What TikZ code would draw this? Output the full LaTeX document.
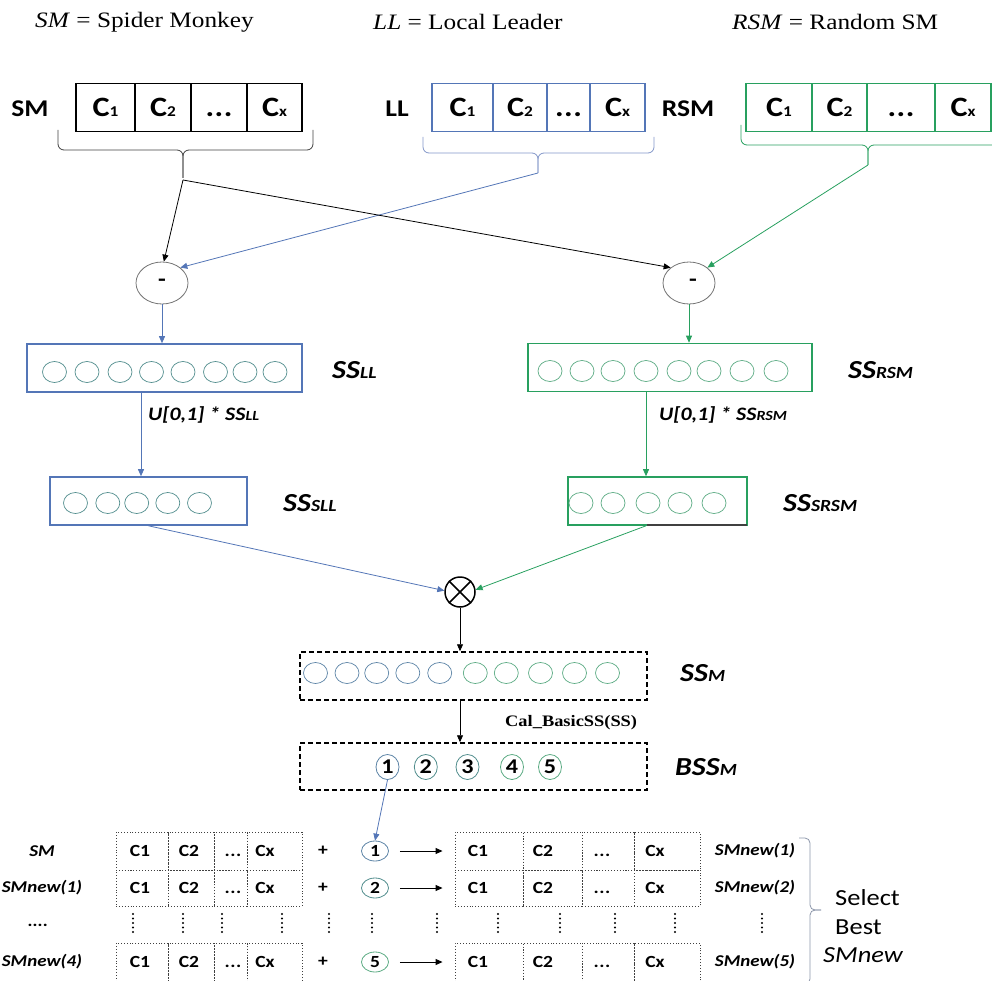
\documentclass[tikz,border=0pt]{standalone}
\usepackage{fontspec}
\setmainfont{Liberation Serif}[FakeStretch=1.15]
\newfontfamily\cb{Carlito}[FakeStretch=1.15]
\usetikzlibrary{arrows.meta,shapes.geometric}
\definecolor{blueC}{RGB}{84,118,183}
\definecolor{blueL}{RGB}{130,150,200}
\definecolor{greenC}{RGB}{40,160,95}
\definecolor{tealC}{RGB}{80,140,140}
\definecolor{mblue}{RGB}{90,130,165}
\definecolor{mgreen}{RGB}{90,170,130}
\definecolor{braceC}{RGB}{140,150,170}
\newcommand\fsz[1]{\fontsize{#1}{#1}\selectfont}
\newcommand\cc[1]{C{\fsz{15}#1}}
\newcommand\dts{\vphantom{C}.\kern0.6pt.\kern0.6pt.}
\newcommand\sslab[4]{{\cb\bfseries\itshape\fsz{#3}#1{\fsz{#4}#2}}}
\begin{document}
\begin{tikzpicture}[x=1pt,y=-1pt,
  arr/.style={-{Triangle[length=7pt,width=6pt]}, line width=0.8pt},
  lab/.style={font=\cb\bfseries\fsz{24}},
  cellT/.style={draw=#1, line width=1.4pt, minimum height=48pt, inner sep=0pt, font=\cb\bfseries\fsz{28}},
  brc/.style={line width=0.8pt, rounded corners=6pt},
  minusnode/.style={ellipse, draw=black!55, line width=0.8pt, minimum width=52pt, minimum height=42pt, inner sep=0pt, font=\cb\bfseries\fsz{22}},
  ssbox/.style={draw=#1, line width=1.6pt, minimum height=48pt, inner sep=0pt},
  sc/.style={ellipse, draw=#1, line width=0.7pt, minimum width=24pt, minimum height=21pt, inner sep=0pt},
  dbox/.style={draw, line width=1.5pt, dash pattern=on 5pt off 3pt, minimum height=48pt, inner sep=0pt},
  lbl/.style={anchor=west, inner sep=0pt},
  nc/.style={ellipse, draw=#1, line width=0.8pt, minimum width=23pt, minimum height=25pt, inner sep=0pt, font=\cb\bfseries\fsz{21}},
  tcell/.style={draw=black!75, dotted, line width=0.9pt, inner sep=0pt},
  ttext/.style={font=\cb\bfseries\fsz{17}, inner sep=0pt},
  rlab/.style={font=\cb\bfseries\itshape\fsz{16.5}, inner sep=0pt},
  tc/.style={ellipse, draw=#1, line width=0.8pt, minimum width=27pt, minimum height=20pt, inner sep=0pt, font=\cb\bfseries\fsz{17}},
]
\useasboundingbox (0,0) rectangle (992,981);

% titles
\node[lbl, font=\fsz{22}] (tSM) at (35,22) {\textit{SM} = Spider Monkey};
\node[lbl, font=\fsz{22}] (tLL) at (373,22) {\textit{LL} = Local Leader};
\node[lbl, font=\fsz{22}] (tRSM) at (732,22) {\textit{RSM} = Random SM};

% top labels
\node[lab] (lSM) at (30,109) {SM};
\node[lab] (lLL) at (397,109) {LL};
\node[lab] (lRSM) at (688,109) {RSM};

% top boxes
\foreach \x/\w/\t [count=\i] in {105.5/59/\cc{1}, 163/56/\cc{2}, 219/56/\dts, 274.5/55/\cc{x}}
  \node[cellT=black, minimum width=\w pt] (sm\i) at (\x,107.5) {\t};
\foreach \x/\w/\t [count=\i] in {462.5/61/\cc{1}, 520/54/\cc{2}, 568.5/43/\dts, 617.5/55/\cc{x}}
  \node[cellT=blueC, minimum width=\w pt] (ll\i) at (\x,107.5) {\t};
\foreach \x/\w/\t [count=\i] in {779/66/\cc{1}, 839.5/55/\cc{2}, 901/68/\dts, 963/56/\cc{x}}
  \node[cellT=greenC, minimum width=\w pt] (rsm\i) at (\x,107.5) {\t};

% braces
\draw[brc, black!75] (58,130) -- (58,150) -- (183,150) -- (183,178);
\draw[brc, black!75] (313,130) -- (313,150) -- (183,150) -- (183,178);
\draw[brc, blueL] (423,137) -- (423,153) -- (538,153) -- (538,173);
\draw[brc, blueL] (654,137) -- (654,153) -- (538,153) -- (538,173);
\draw[brc, greenC] (741,125) -- (741,145) -- (868,145) -- (868,165);
\draw[brc, greenC] (998,125) -- (998,145) -- (868,145) -- (868,165);
\coordinate (smT) at (183,180);
\coordinate (llT) at (538,173);
\coordinate (rsmT) at (868,165);

% minus nodes
\node[minusnode] (mL) at (162,283) {-};
\node[minusnode] (mR) at (689,283) {\hspace*{8pt}-};

\draw[arr] (smT) -- (mL.85);
\draw[arr, blueC] (llT) -- (mL.40);
\draw[arr] (smT) -- (mR.140);
\draw[arr, greenC] (rsmT) -- (mR.40);

% SS boxes
\node[ssbox=blueC, minimum width=275pt] (sll) at (164.5,368) {};
\node[ssbox=greenC, minimum width=284pt] (srsm) at (670,367.5) {};
\foreach \x [count=\i] in {54.5,87,120,151.5,183,215.5,245,275}
  \node[sc=tealC] (cl\i) at (\x,372) {};
\foreach \x [count=\i] in {550,582,613,646,679,709,742,776}
  \node[sc=mgreen] (cr\i) at (\x,371) {};
\node[lbl] (lsll) at (332,370) {\sslab{SS}{LL}{26}{17}};
\node[lbl] (lsrsm) at (848,370) {\sslab{SS}{RSM}{26}{17}};

\draw[arr, blueC] (mL.south) -- (mL.south |- sll.north);
\draw[arr, greenC] (mR.south) -- (mR.south |- srsm.north);

% scaled boxes
\node[ssbox=blueC, minimum width=197pt] (ssll) at (148.5,501) {};
\node[ssbox=greenC, minimum width=179pt] (ssrsm) at (657.5,501) {};
\draw[line width=1.5pt, black!75] (647,525) -- (747,525);
\foreach \x [count=\i] in {75.5,107.8,136.7,167.8,199.5}
  \node[sc=tealC] (csl\i) at (\x,503) {};
\foreach \x [count=\i] in {581,613,648,680,714}
  \node[sc=mgreen] (csr\i) at (\x,503) {};
\node[lbl] (lssll) at (283,503) {\sslab{SS}{SLL}{26}{17}};
\node[lbl] (lssrsm) at (783,503) {\sslab{SS}{SRSM}{26}{17}};

\coordinate (aL) at (141,0);
\coordinate (aR) at (646,0);
\draw[arr, blueC] (aL |- sll.south) -- (aL |- ssll.north);
\draw[arr, greenC] (aR |- srsm.south) -- (aR |- ssrsm.north);
\node[lbl] (uL) at (148,415) {\sslab{U[0,1] * SS}{LL}{19}{14}};
\node[lbl] (uR) at (659,415) {\sslab{U[0,1] * SS}{RSM}{19}{14}};

% otimes
\node[circle, draw, line width=1.5pt, minimum size=30pt, inner sep=0pt] (ot) at (460,592) {};
\draw[line width=1.5pt] (ot.45) -- (ot.225) (ot.135) -- (ot.315);
\draw[arr, blueC] (ssll.south) -- (ot.175);
\draw[arr, greenC] (aR |- ssrsm.south) -- (ot.8);

% SS_M
\node[dbox, minimum width=347pt] (ssm) at (473.5,676) {};
\foreach \x [count=\i] in {315.5,347,376.7,407.8,439.7}
  \node[sc=mblue] (cm\i) at (\x,673) {};
\foreach \x [count=\i] in {475.3,506.3,540.5,574.5,607.5}
  \node[sc=mgreen] (cn\i) at (\x,673) {};
\node[lbl] (lssm) at (680,673) {\sslab{SS}{M}{26}{17}};
\draw[arr] (ot.south) -- (ot.south |- ssm.north);

% BSS_M
\node[dbox, minimum width=347pt, minimum height=47pt] (bss) at (473.5,766.5) {};
\draw[arr] (ot.south |- ssm.south) -- (ot.south |- bss.north);
\node[lbl, font=\bfseries\fsz{16}] (cal) at (505,723) {Cal\_BasicSS(SS)};
\foreach \x/\c [count=\i] in {387.5/mblue, 425.8/tealC, 467.5/tealC, 512/mgreen, 550/mgreen}
  \node[nc=\c] (b\i) at (\x,767) {\i};
\node[lbl] (lbss) at (675,767) {\sslab{BSS}{M}{26}{17}};

% table
\node[rlab] (rl1) at (42,851) {SM};
\node[rlab] (rl2) at (42,888) {SMnew(1)};
\node[rlab] (rl3) at (38,925) {....};
\node[rlab] (rl4) at (42,962) {SMnew(4)};
\foreach \r/\y/\h/\n/\c in {1/851/38/1/mblue, 2/888/36/2/tealC, 4/962/38/5/mgreen} {
  \foreach \x/\w/\tx/\t [count=\k] in {142/52/140/C1, 191/46/189/C2, 230.5/33/233/\dts, 274.5/55/265/Cx} {
    \node[tcell, minimum width=\w pt, minimum height=\h pt] (L\r\k) at (\x,\y) {};
    \node[ttext] (LT\r\k) at (\tx,\y) {\t};
  }
  \foreach \x/\w/\tx/\t [count=\k] in {489/68/478/C1, 552.5/59/543/C2, 608/52/602/\dts, 667/66/655/Cx} {
    \node[tcell, minimum width=\w pt, minimum height=\h pt] (R\r\k) at (\x,\y) {};
    \node[ttext] (RT\r\k) at (\tx,\y) {\t};
  }
  \node[ttext] (pl\r) at (323,\y) {+};
  \node[tc=\c] (tc\r) at (375,\y) {\n};
  \draw[arr, line width=1pt] ([xshift=11pt]tc\r.east) -- ([xshift=-12pt]R\r1.west);
}
\node[rlab] (rr1) at (755,851) {SMnew(1)};
\node[rlab] (rr2) at (755,888) {SMnew(2)};
\node[rlab] (rr4) at (755,962) {SMnew(5)};
\foreach \x in {133,183,222,282,329,372,437,498,560,615,675,762}
  \foreach \k in {0,...,4}
    \fill (\x,{914+4.5*\k}) circle (1.2pt);

\draw[arr, blueC] (b1.south) -- (tc1.north);

% select brace
\draw[brc, braceC, rounded corners=5pt] (799,838) -- (810,838) -- (810,910) -- (821,910);
\draw[brc, braceC, rounded corners=5pt] (799,984) -- (810,984) -- (810,910) -- (821,910);
\node[lbl, font=\cb\fsz{23}] (sel1) at (835,898) {Select};
\node[lbl, font=\cb\fsz{23}] (sel2) at (835,927) {Best};
\node[lbl, font=\cb\itshape\fsz{23}] (sel3) at (823,955) {SMnew};
\end{tikzpicture}
\end{document}
